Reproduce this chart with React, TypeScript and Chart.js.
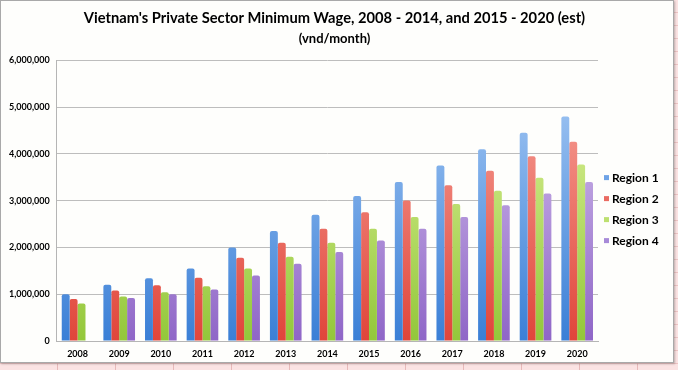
import React, { useEffect, useRef } from "react";
import { Chart, registerables } from "chart.js";

Chart.register(...registerables);

const years = ["2008", "2009", "2010", "2011", "2012", "2013", "2014", "2015", "2016", "2017", "2018", "2019", "2020"];
const region1 = [1000000, 1200000, 1340000, 1550000, 2000000, 2350000, 2700000, 3100000, 3400000, 3750000, 4100000, 4450000, 4800000];
const region2 = [900000, 1080000, 1190000, 1350000, 1780000, 2100000, 2400000, 2750000, 3000000, 3330000, 3640000, 3950000, 4260000];
const region3 = [800000, 950000, 1040000, 1170000, 1550000, 1800000, 2100000, 2400000, 2650000, 2930000, 3210000, 3490000, 3770000];
const region4 = [null, 920000, 1000000, 1100000, 1400000, 1650000, 1900000, 2150000, 2400000, 2650000, 2900000, 3150000, 3400000];
const seriesNames = ["Region 1", "Region 2", "Region 3", "Region 4"];
const yTicks = [0, 1000000, 2000000, 3000000, 4000000, 5000000, 6000000];

const FONT = "Lato, 'Liberation Sans', sans-serif";

const palette = [
  { top: "#abcdf6", bottom: "#3a7fd6", solid: "#6fa3e6" },
  { top: "#f9aaa1", bottom: "#e0453a", solid: "#ea6b62" },
  { top: "#e6f7a6", bottom: "#93c73a", solid: "#bde070" },
  { top: "#dccbf1", bottom: "#8f66c7", solid: "#a78ad8" },
];

function gradientFor(idx: number) {
  return (ctx: any) => {
    const chart = ctx.chart;
    const area = chart.chartArea;
    if (!area) return palette[idx].solid;
    const g = chart.ctx.createLinearGradient(0, area.top, 0, area.bottom);
    g.addColorStop(0, palette[idx].top);
    g.addColorStop(1, palette[idx].bottom);
    return g;
  };
}

const sideLegend = {
  id: "sideLegend",
  afterDraw(chart: any) {
    const { ctx, chartArea } = chart;
    const x0 = chartArea.right + 6;
    const mid = (chartArea.top + chartArea.bottom) / 2 + 9;
    const step = 21;
    ctx.save();
    ctx.font = `bold 12px ${FONT}`;
    ctx.textBaseline = "middle";
    ctx.textAlign = "left";
    seriesNames.forEach((name, i) => {
      const y = mid + (i - 1.5) * step;
      ctx.fillStyle = palette[i].solid;
      ctx.fillRect(x0, y - 3, 5, 5);
      ctx.fillStyle = "#000";
      ctx.fillText(name, x0 + 8, y);
    });
    ctx.restore();
  },
};

export default function App() {
  const ref = useRef<HTMLCanvasElement | null>(null);

  useEffect(() => {
    document.body.style.margin = "0";
    if (!ref.current) return;
    const data = [region1, region2, region3, region4];
    const chart = new Chart(ref.current, {
      type: "bar",
      data: {
        labels: years,
        datasets: data.map((d, i) => ({
          label: seriesNames[i],
          data: d,
          backgroundColor: gradientFor(i),
          borderWidth: 0,
          borderRadius: { topLeft: 2, topRight: 2, bottomLeft: 0, bottomRight: 0 },
          borderSkipped: "bottom",
          categoryPercentage: 0.76,
          barPercentage: 1.0,
        })),
      },
      plugins: [sideLegend],
      options: {
        animation: false,
        responsive: false,
        maintainAspectRatio: false,
        layout: { padding: { left: 1, right: 6, top: 0, bottom: 0 } },
        plugins: {
          title: {
            display: true,
            text: "Vietnam's Private Sector Minimum Wage, 2008 - 2014, and 2015 - 2020 (est)",
            color: "#000",
            font: { family: FONT, size: 14.7, weight: "bold" },
            padding: { top: 8, bottom: 4 },
          },
          subtitle: {
            display: true,
            text: "(vnd/month)",
            color: "#000",
            font: { family: FONT, size: 13, weight: "bold" },
            padding: { top: 0, bottom: 14 },
          },
          legend: { display: false },
          tooltip: { enabled: false },
        },
        scales: {
          x: {
            grid: { display: false, drawTicks: false },
            border: { display: true, color: "#b5b5b5", width: 1 },
            ticks: {
              color: "#000",
              font: { family: FONT, size: 9, weight: "bold" },
              padding: 8,
              maxRotation: 0,
            },
            afterFit: (axis: any) => {
              axis.height = 21;
            },
          },
          y: {
            min: 0,
            max: 6000000,
            afterBuildTicks: (axis: any) => {
              axis.ticks = yTicks.map((v) => ({ value: v }));
            },
            grid: { color: "#bdbdbd", lineWidth: 1, drawTicks: false },
            border: { display: true, color: "#b5b5b5", width: 1 },
            ticks: {
              color: "#000",
              font: { family: FONT, size: 9, weight: "bold" },
              padding: 7,
              callback: (v: any) => Number(v).toLocaleString("en-US"),
            },
          },
          legendSpace: {
            type: "linear",
            position: "right",
            display: true,
            grid: { display: false, drawTicks: false },
            border: { display: false },
            ticks: { display: false },
            afterFit: (axis: any) => {
              axis.width = 69;
            },
          },
        },
      },
    });
    return () => chart.destroy();
  }, []);

  return (
    <div
      style={{
        position: "relative",
        width: 678,
        height: 370,
        overflow: "hidden",
        backgroundColor: "#fbe3e3",
        backgroundImage:
          "repeating-linear-gradient(to right, transparent 0px, transparent 57px, #e7b9b9 57px, #e7b9b9 58px), repeating-linear-gradient(to bottom, transparent 0px, transparent 12px, #ecc4c4 12px, #ecc4c4 13px)",
      }}
    >
      <div
        style={{
          position: "absolute",
          left: 0,
          top: 0,
          width: 674,
          height: 363,
          boxSizing: "border-box",
          border: "1px solid #a9a9a9",
          background: "#fefefc",
          boxShadow: "1px 1px 2px rgba(0,0,0,0.25)",
        }}
      >
        <canvas ref={ref} width={672} height={361} style={{ position: "absolute", left: 0, top: 0, width: 672, height: 361 }} />
      </div>
    </div>
  );
}
